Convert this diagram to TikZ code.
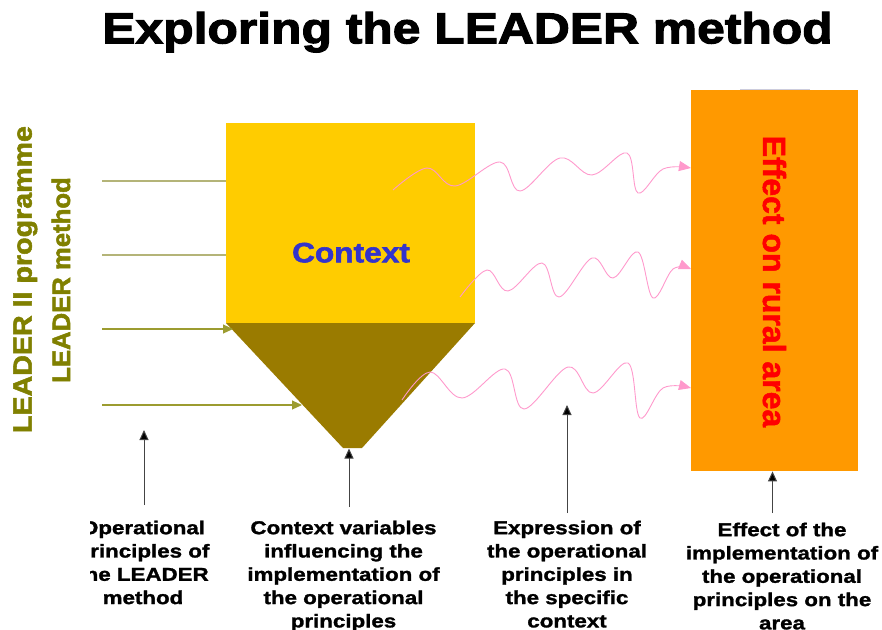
\documentclass[tikz,border=0pt]{standalone}
\usepackage{fontspec}
\setmainfont{Liberation Sans}
\newfontfamily\fTitle{Liberation Sans}[FakeStretch=1.15, FakeBold=2.5]
\newfontfamily\fCtx{Liberation Sans}[FakeStretch=1.13, FakeBold=2]
\newfontfamily\fLab{Liberation Sans}[FakeStretch=1.2, FakeBold=1.5]
\newfontfamily\fSideA{Liberation Sans}[FakeStretch=1.08, FakeBold=2]
\newfontfamily\fSideB{Liberation Sans}[FakeStretch=1.02, FakeBold=2]
\newfontfamily\fEff{Liberation Sans}[FakeBold=1.5]
\usetikzlibrary{arrows.meta}
\definecolor{ctxyellow}{HTML}{FFCC00}
\definecolor{ctxbrown}{HTML}{9A7B00}
\definecolor{efforange}{HTML}{FF9900}
\definecolor{ctxblue}{HTML}{3333CC}
\definecolor{sideolive}{HTML}{808000}
\definecolor{lineolive}{HTML}{9C9C30}
\definecolor{lineolivelt}{HTML}{B4B478}
\definecolor{wavepink}{HTML}{FF99CC}
\definecolor{arrowgray}{HTML}{444444}
\definecolor{faintline}{HTML}{CCCCDD}
\tikzset{
  olivetip/.style={draw=lineolive, line width=1.1pt, -{Triangle[length=10pt,width=9pt,fill=lineolive]}},
  oliveplain/.style={draw=lineolivelt, line width=1.1pt},
  wave/.style={draw=wavepink, line width=0.9pt, -{Triangle[length=12pt,width=10pt,fill=wavepink]}},
  uparrow/.style={draw=arrowgray, line width=1pt, -{Triangle[length=10pt,width=9pt,fill=black]}},
  lab/.style={font=\fLab\bfseries\fontsize{18.6}{23.3}\selectfont, align=center, anchor=north, inner sep=0pt, text=black},
}
\begin{document}
\begin{tikzpicture}[x=1pt,y=-1pt]
\useasboundingbox (0,0) rectangle (882,629);
% title
\node[font=\fTitle\bfseries\fontsize{43.3}{50}\selectfont, anchor=base, inner sep=0pt] (title) at (467.5,43.3) {Exploring the LEADER method};
% side labels
\node[font=\fSideA\bfseries\fontsize{26.5}{30}\selectfont, text=sideolive, rotate=90, anchor=base, inner sep=0pt] (prog) at (31.7,279.5) {LEADER II programme};
\node[font=\fSideB\bfseries\fontsize{25.2}{30}\selectfont, text=sideolive, rotate=90, anchor=base, inner sep=0pt] (meth) at (70,280) {LEADER method};
% context shape
\path[fill=ctxyellow] (226,123) rectangle (475,323);
\path[fill=ctxbrown] (226,323) -- (475,323) -- (362,448) -- (343,448) -- cycle;
\node[font=\fCtx\bfseries\fontsize{28}{32}\selectfont, text=ctxblue, anchor=base, inner sep=0pt] (ctx) at (351,262.3) {Context};
\coordinate (ctxbot) at (349,448.5);
% effect box
\draw[faintline, line width=1pt] (740,89.5) -- (810,89.5);
\node[fill=efforange, minimum width=167pt, minimum height=381pt, inner sep=0pt, anchor=north west] (eff) at (691,90) {};
\node[font=\fEff\bfseries\fontsize{32}{36}\selectfont, text=red, rotate=-90, anchor=base, inner sep=0pt] (efftext) at (763,281.5) {Effect on rural area};
% olive input lines
\coordinate (s1) at (102,181); \coordinate (e1) at (226,181);
\coordinate (s2) at (102,255); \coordinate (e2) at (226,255);
\coordinate (s3) at (102,329); \coordinate (e3) at (233,329);
\coordinate (s4) at (102,405); \coordinate (e4) at (302,405);
\draw[oliveplain] (s1) -- (e1);
\draw[oliveplain] (s2) -- (e2);
\draw[olivetip] (s3) -- (e3);
\draw[olivetip] (s4) -- (e4);
% pink waves
\draw[wave] plot[smooth, tension=0.6] coordinates {(393,190) (427,168) (455,186) (500,162) (520,191) (560,158) (592,175) (627,153) (638,193) (663,169) (691,168)};
\draw[wave] plot[smooth, tension=0.6] coordinates {(460,297) (487,270) (508,291) (542,263) (559,297) (592,258) (613,278) (638,252) (653,298) (673,269) (691,269)};
\draw[wave] plot[smooth, tension=0.6] coordinates {(402,400) (430,372) (462,398) (505,369) (524,409) (568,367) (593,393) (628,363) (640,418) (663,388) (691,388)};
% bottom labels
\begin{scope}
\clip (90,500) rectangle (320,629);
\node[lab] (l1) at (143,520.5) {Operational\\principles of\\the LEADER\\method};
\end{scope}
\node[lab] (l2) at (343.5,520.5) {Context variables\\influencing the\\implementation of\\the operational\\principles};
\node[lab] (l3) at (567,520.5) {Expression of\\the operational\\principles in\\the specific\\context};
\node[lab] (l4) at (782,522.5) {Effect of the\\implementation of\\the operational\\principles on the\\area};
% up arrows
\coordinate (a1) at (144,505); \coordinate (b1) at (144,430);
\coordinate (a2) at (349,507);
\coordinate (a3) at (567,513); \coordinate (b3) at (567,405);
\coordinate (a4) at (772.5,513);
\draw[uparrow] (a1) -- (b1);
\draw[uparrow] (a2) -- (ctxbot);
\draw[uparrow] (a3) -- (b3);
\draw[uparrow] (a4) -- (a4 |- eff.south);
\end{tikzpicture}
\end{document}
